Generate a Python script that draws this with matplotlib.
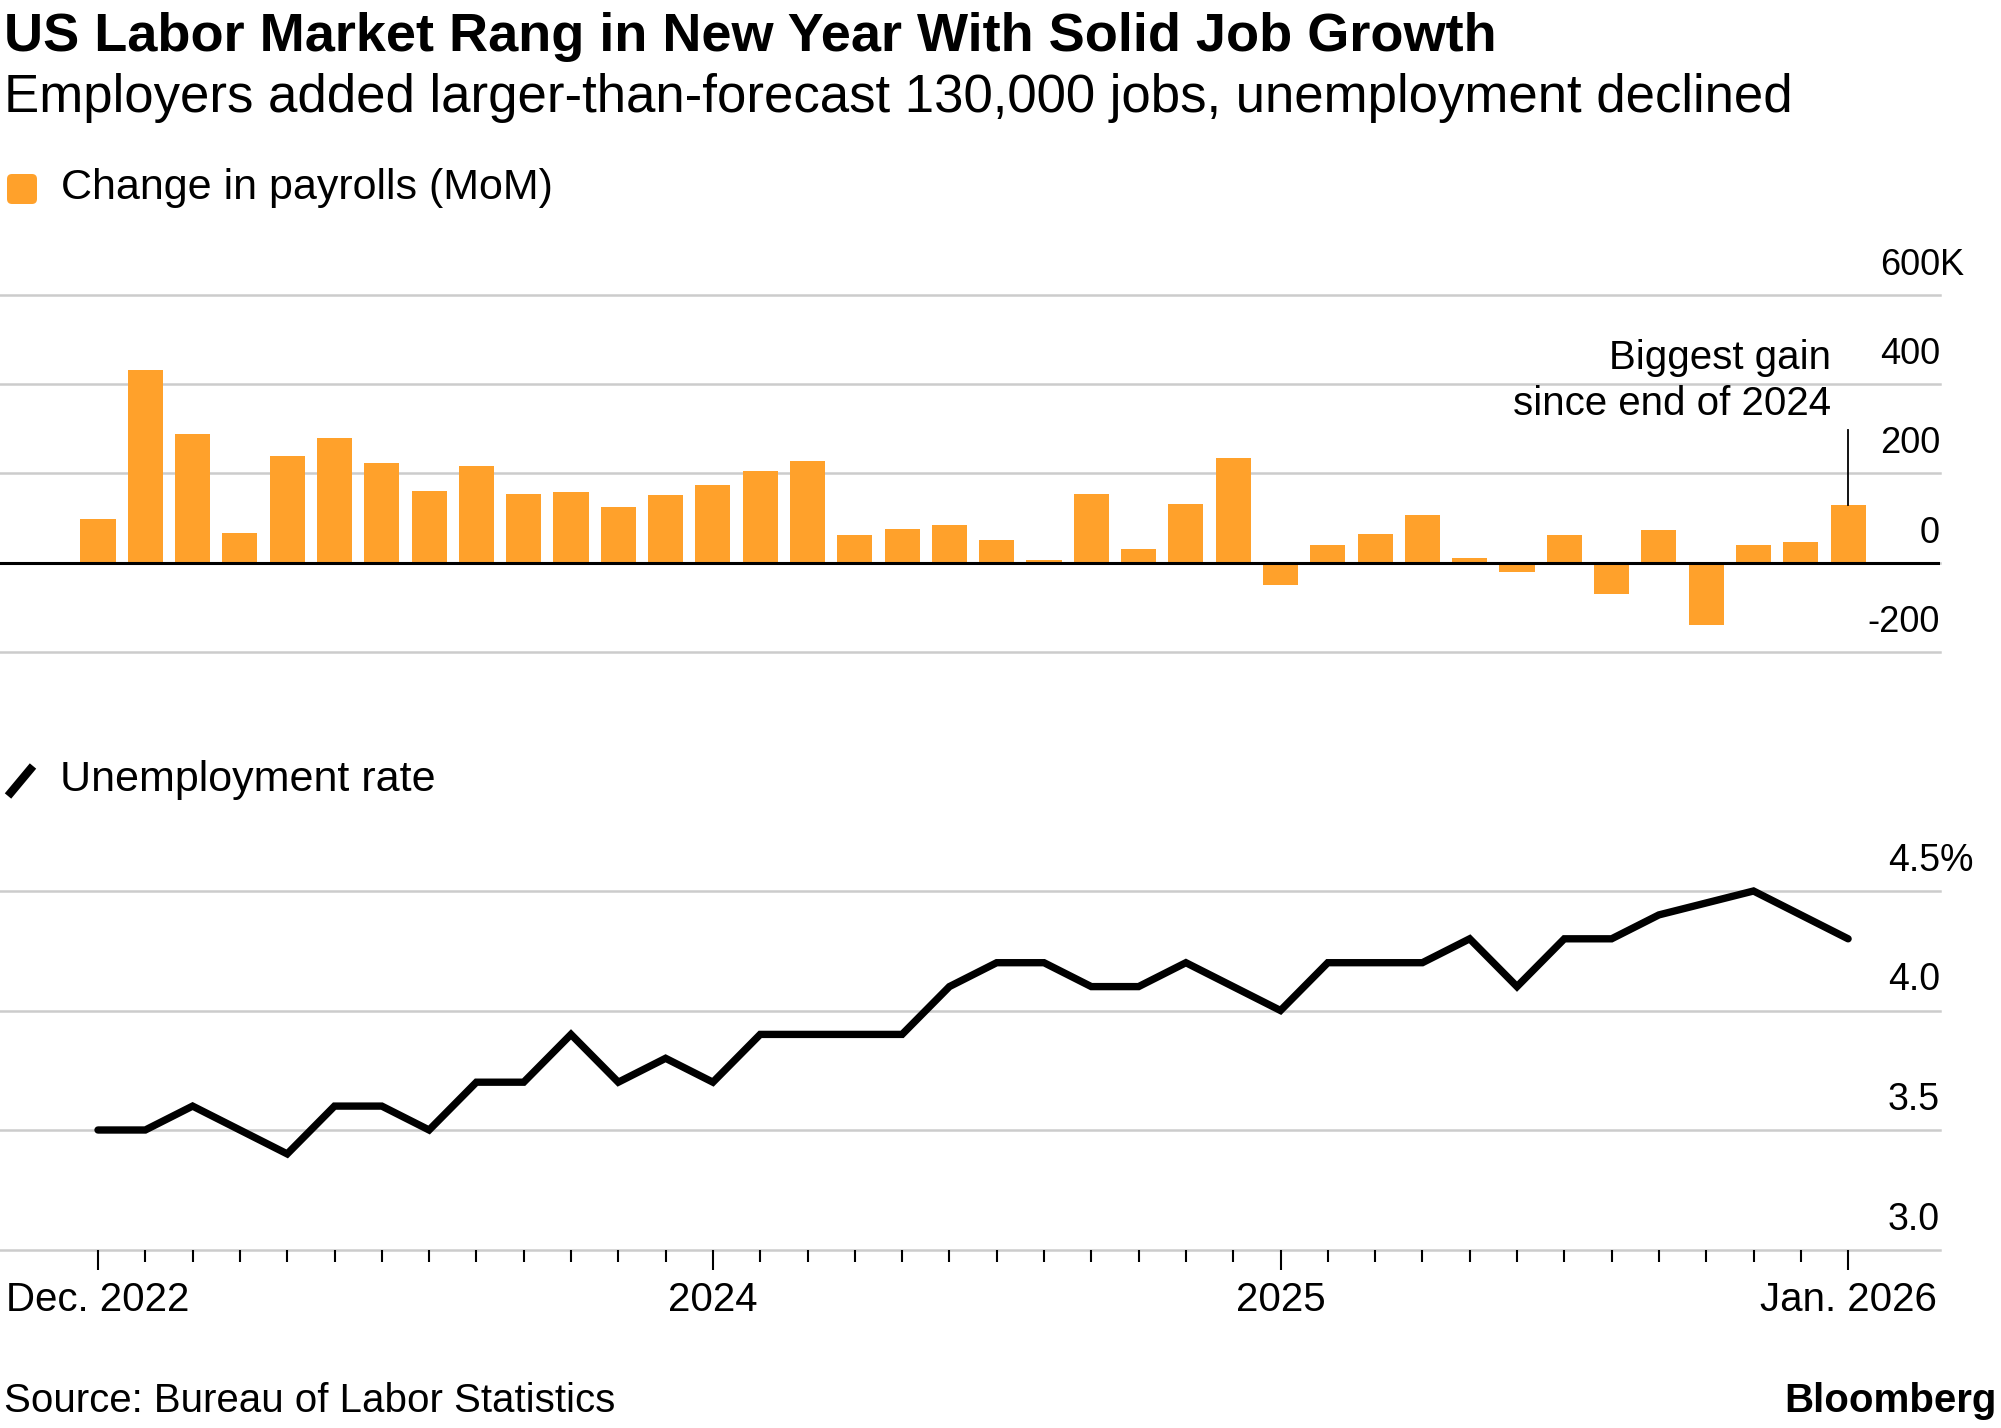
import matplotlib
matplotlib.use("Agg")
import matplotlib.pyplot as plt
import matplotlib.transforms as mtransforms
from matplotlib.patches import FancyBboxPatch
from matplotlib.lines import Line2D
import numpy as np
import pandas as pd

##############
# DATA
##############
months = pd.period_range("2022-12", "2026-01", freq="M")
# change in nonfarm payrolls, thousands
payrolls = [98, 433, 289, 67, 239, 279, 224, 161, 216, 155, 158, 126, 152,
            174, 205, 228, 62, 76, 85, 51, 7, 153, 31, 132, 235,
            -49, 40, 65, 106, 11, -21, 62, -71, 74, -140, 40, 47, 130]
# unemployment rate, % (no October 2025 reading)
unemployment = [3.5, 3.5, 3.6, 3.5, 3.4, 3.6, 3.6, 3.5, 3.7, 3.7, 3.9, 3.7, 3.8,
                3.7, 3.9, 3.9, 3.9, 3.9, 4.1, 4.2, 4.2, 4.1, 4.1, 4.2, 4.1,
                4.0, 4.2, 4.2, 4.2, 4.3, 4.1, 4.3, 4.3, 4.4, np.nan, 4.5, 4.4, 4.3]
bar_ticks = [-200, 0, 200, 400, 600]
bar_tick_labels = ["-200", "0", "200", "400", "600"]
rate_ticks = [3.0, 3.5, 4.0, 4.5]
rate_tick_labels = ["3.0", "3.5", "4.0", "4.5"]
x_major = ["2022-12", "2024-01", "2025-01", "2026-01"]
x_major_labels = ["Dec. 2022", "2024", "2025", "Jan. 2026"]

ORANGE = "#FFA12B"
GRID = "#cccccc"

plt.rcParams["font.family"] = ["Liberation Sans Narrow", "Liberation Sans", "DejaVu Sans"]

W, H = 2001, 1428
fig = plt.figure(figsize=(W / 100, H / 100), dpi=100)
fig.patch.set_facecolor("white")


def fy(px):
    return 1 - px / H


def fx(px):
    return px / W


x = np.arange(len(months))
step = 47.3
first_px = 98
right_px = 1940
xlim = (-first_px / step, (right_px - first_px) / step)

###########
# PAYROLLS
###########
ax1 = fig.add_axes([0, fy(652), fx(right_px), fy(295) - fy(652)])
ax1.set_xlim(xlim)
ax1.set_ylim(-200, 600)
ax1.axis("off")
for t in bar_ticks:
    ax1.axhline(t, color=GRID, lw=1.8, zorder=1, clip_on=False)
ax1.bar(x, payrolls, width=0.74, color=ORANGE, zorder=2)
ax1.axhline(0, color="black", lw=2.2, zorder=3)

trans1 = mtransforms.blended_transform_factory(ax1.transAxes, ax1.transData)
for t, lbl in zip(bar_ticks, bar_tick_labels):
    ax1.annotate(lbl, xy=(1, t), xycoords=trans1, xytext=(0, 20),
                 textcoords="offset pixels", ha="right", va="baseline",
                 fontsize=26, annotation_clip=False)
ax1.annotate("K", xy=(1, 600), xycoords=trans1, xytext=(0, 20),
             textcoords="offset pixels", ha="left", va="baseline",
             fontsize=26, annotation_clip=False)

# callout for the latest month
last = len(months) - 1
ax1.plot([x[last], x[last]], [payrolls[last], 298], color="black", lw=1.3, zorder=4)
fig.text(fx(1831), fy(369), "Biggest gain", ha="right", va="baseline", fontsize=29)
fig.text(fx(1831), fy(415), "since end of 2024", ha="right", va="baseline", fontsize=29)

##################
# UNEMPLOYMENT
##################
ax2 = fig.add_axes([0, fy(1249.5), fx(right_px), fy(891) - fy(1249.5)])
ax2.set_xlim(xlim)
ax2.set_ylim(3.0, 4.5)
ax2.patch.set_visible(False)
for s in ax2.spines.values():
    s.set_visible(False)
for t in rate_ticks:
    ax2.axhline(t, color=GRID, lw=1.8, zorder=1, clip_on=False)

u = np.array(unemployment)
ok = ~np.isnan(u)
ax2.plot(x[ok], u[ok], color="black", lw=5.3, solid_joinstyle="miter",
         solid_capstyle="round", zorder=3, clip_on=False)

major_pos = [months.get_loc(pd.Period(m, freq="M")) for m in x_major]
ax2.set_xticks(major_pos)
ax2.set_xticklabels(x_major_labels, fontsize=29)
ax2.set_xticks(x, minor=True)
ax2.tick_params(axis="x", which="major", direction="out", length=14.5, width=1.5,
                color="black", pad=8)
ax2.tick_params(axis="x", which="minor", direction="out", length=8.5, width=1.5,
                color="black")
ax2.tick_params(axis="y", left=False, labelleft=False)

trans2 = mtransforms.blended_transform_factory(ax2.transAxes, ax2.transData)
for t, lbl in zip(rate_ticks, rate_tick_labels):
    ax2.annotate(lbl, xy=(1, t), xycoords=trans2, xytext=(0, 20),
                 textcoords="offset pixels", ha="right", va="baseline",
                 fontsize=27, annotation_clip=False)
ax2.annotate("%", xy=(1, 4.5), xycoords=trans2, xytext=(0, 20),
             textcoords="offset pixels", ha="left", va="baseline",
             fontsize=27, annotation_clip=False)

###########
# TEXT
###########
fig.text(fx(4), fy(51), "US Labor Market Rang in New Year With Solid Job Growth",
         fontsize=39, fontweight="bold", ha="left", va="baseline")
fig.text(fx(4), fy(112),
         "Employers added larger-than-forecast 130,000 jobs, unemployment declined",
         fontsize=38, ha="left", va="baseline")

# legend keys
ident = mtransforms.IdentityTransform()
fig.patches.append(FancyBboxPatch((7, H - 204), 30, 30,
                                  boxstyle="round,pad=0,rounding_size=5",
                                  facecolor=ORANGE, edgecolor="none",
                                  transform=ident, figure=fig))
fig.text(fx(61), fy(188), "Change in payrolls (MoM)", fontsize=31,
         ha="left", va="center")
fig.lines.append(Line2D([8, 33], [H - 796, H - 766], color="black", lw=6,
                        solid_capstyle="butt", transform=ident, figure=fig))
fig.text(fx(60), fy(780), "Unemployment rate", fontsize=31, ha="left", va="center")

fig.text(fx(4), fy(1401), "Source: Bureau of Labor Statistics", fontsize=29,
         ha="left", va="center")
fig.text(fx(1997), fy(1401), "Bloomberg", fontsize=29, fontweight="bold",
         ha="right", va="center")

fig.savefig("out.png", dpi=100)
